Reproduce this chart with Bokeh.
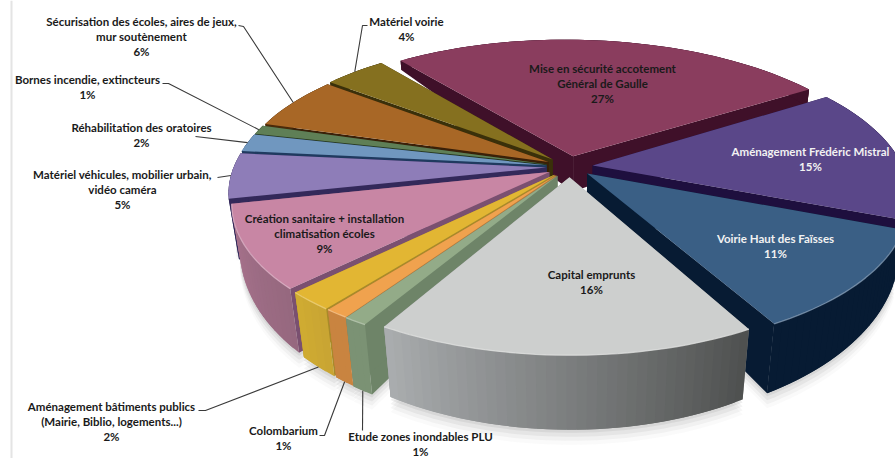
import math
from bokeh.plotting import figure
from bokeh.models import ColumnDataSource, Range1d, Span
from bokeh.core.properties import value
from bokeh.embed import file_html
from bokeh.resources import INLINE

# ---- data (clockwise from the start of the largest slice)
categories = ["Mise en sécurité accotement Général de Gaulle", "Aménagement Frédéric Mistral",
              "Voirie Haut des Faisses", "Capital emprunts", "Etude zones inondables PLU",
              "Colombarium", "Aménagement bâtiments publics (Mairie, Biblio, logements...)",
              "Création sanitaire + installation climatisation écoles",
              "Matériel véhicules, mobilier urbain, vidéo caméra", "Réhabilitation des oratoires",
              "Bornes incendie, extincteurs", "Sécurisation des écoles, aires de jeux, mur soutènement",
              "Matériel voirie"]
percent = [27, 15, 11, 16, 1, 1, 2, 9, 5, 2, 1, 6, 4]
label_lines = [["Mise en sécurité accotement", "Général de Gaulle", "27%"],
               ["Aménagement Frédéric Mistral", "15%"],
               ["Voirie Haut des Faïsses", "11%"],
               ["Capital emprunts", "16%"],
               ["Etude zones inondables PLU", "1%"],
               ["Colombarium", "1%"],
               ["Aménagement bâtiments publics", "(Mairie, Biblio, logements...)", "2%"],
               ["Création sanitaire + installation", "climatisation écoles", "9%"],
               ["Matériel véhicules, mobilier urbain,", "vidéo caméra", "5%"],
               ["Réhabilitation des oratoires", "2%"],
               ["Bornes incendie, extincteurs", "1%"],
               ["Sécurisation des écoles, aires de jeux,", "mur soutènement", "6%"],
               ["Matériel voirie", "4%"]]

# ---- styles
top_col = ["#8A3D5E", "#5A4789", "#3A5F85", "#CDCFCE", "#93AB88", "#F0A24E", "#E2B633",
           "#C886A4", "#8E7DB8", "#7097BF", "#5F7F56", "#A86726", "#85701F"]
wall_a = ["#3F1029", "#1E0F3E", "#071B33", "#4F5150", "#7B9274", "#C98440", "#C9A533",
          "#96687F", "#33295A", "#1F3A5F", "#28391F", "#4A2A0A", "#3A300A"]
wall_b = ["#3F1029", "#1E0F3E", "#071B33", "#A9ACAE", "#7B9274", "#C98440", "#CFAB32",
          "#A8738D", "#33295A", "#1F3A5F", "#28391F", "#4A2A0A", "#3A300A"]
side_col = ["#3F1029", "#1E0F3E", "#071B33", "#8A8C8C", "#6E8468", "#B87A3C", "#A88A2A",
            "#7A5070", "#33295A", "#1F3A5F", "#28391F", "#3A2008", "#3A300A"]
txt_col = ["#1A1A1A", "#F2F2F2", "#F2F2F2"] + ["#1A1A1A"] * 10

# label layout: centre x, first line y
lab_x = [602, 810, 775, 591, 420, 283, 111, 324, 122, 141, 87, 141, 406]
lab_y = [68, 151, 238, 274, 435.5, 430, 406, 218, 174, 127, 79, 21, 21]
LINE_H = 15.2

# leader: points near the label; the pie end is computed. flag: end on wall bottom
leaders = {11: ([238, 243], [25, 26], False),
           12: ([367, 362], [25, 25], False),
           10: ([162, 168], [83, 83], False),
           9: ([195], [136], False),
           8: ([217], [177], False),
           6: ([198, 205], [410, 410], True),
           5: ([319, 324], [435, 435], True),
           4: ([362], [430], True)}

# ---- projection
CX, CY, A, B, K, EXPL, TH0 = 569, 166, 310, 140, 0.2, 0.075, -39.6
wall_scale = {8: 1.3}
# horizontal rim corrections at the start and the end of a slice
rim_dx = {0: (-3, 3), 3: (-5, -1), 4: (-6, -6), 5: (-5, -5), 6: (-5, -5), 7: (-5, 2), 12: (-2, -4)}


def proj(x, y):
    s = 1 / (1 - K * y)
    return CX + A * x * s, CY + B * y * s


def thick(y, i=None):
    return (38 + 34 * y) * wall_scale.get(i, 1.0)


def drop(px, py, y, i=None):
    h = thick(y, i)
    return CX + (px - CX) * (1 - h / 2000), py + h


def mix(c1, c2, t):
    a = [int(c1[i:i + 2], 16) for i in (1, 3, 5)]
    b = [int(c2[i:i + 2], 16) for i in (1, 3, 5)]
    return "#%02x%02x%02x" % tuple(round(p + (q - p) * t) for p, q in zip(a, b))


total = sum(percent)
spans, cum = [], 0
for v in percent:
    spans.append((TH0 + cum / total * 360, TH0 + (cum + v) / total * 360))
    cum += v


def world(i, th, r=1.0):
    mid = math.radians(sum(spans[i]) / 2)
    t = math.radians(th)
    return r * math.sin(t) + EXPL * math.sin(mid), -r * math.cos(t) - EXPL * math.cos(mid)


def rim_point(i, th):
    a, b = spans[i]
    x, y = proj(*world(i, th))
    d0, d1 = rim_dx.get(i, (0, 0))
    f = (th - a) / (b - a)
    return x + d0 + (d1 - d0) * f, y - 3 + 2.5 * math.sin(math.radians(th))


def rim(i):
    a, b = spans[i]
    n = max(3, int((b - a) / 1.5))
    return [a + (b - a) * j / n for j in range(n + 1)]


xs, ys, cols = [], [], []
sx, sy, sa = [], [], []
bx, by, bc = [], [], []
order = sorted(range(len(percent)), key=lambda i: -math.cos(math.radians(sum(spans[i]) / 2)))

for i in range(len(percent)):
    ths = rim(i)
    ax, ay = world(i, 0, 0)
    pts = [(rim_point(i, t), world(i, t)[1]) for t in ths]
    bot = [drop(p[0], p[1], wy) for p, wy in pts]
    apx, apy = proj(ax, ay)
    abx, aby = drop(apx, apy, ay)
    if math.cos(math.radians(sum(spans[i]) / 2)) < 0.35:
        for d, al in ((3, .10), (7, .07), (11, .05), (15, .03)):
            sx.append([abx] + [p[0] for p in bot])
            sy.append([aby + d] + [p[1] + d for p in bot])
            sa.append(al)

for i in order:
    ths = rim(i)
    ax, ay = world(i, 0, 0)
    apx, apy = proj(ax, ay)
    abx, aby = drop(apx, apy, ay, i)
    tops = [rim_point(i, t) for t in ths]
    wy = [world(i, t)[1] for t in ths]
    bots = [drop(p[0], p[1], y, i) for p, y in zip(tops, wy)]
    for k in (0, -1):
        xs.append([apx, tops[k][0], bots[k][0], abx])
        ys.append([apy, tops[k][1], bots[k][1], aby])
        cols.append(side_col[i])
    m = len(ths) - 1
    for j in range(m):
        e = min(j + 2, m)          # each strip overlaps the next, which hides seams
        xs.append([tops[j][0], tops[e][0], bots[e][0], bots[j][0]])
        ys.append([tops[j][1], tops[e][1], bots[e][1], bots[j][1]])
        cols.append(mix(wall_a[i], wall_b[i], j / max(m - 1, 1)))
    xs.append([apx] + [p[0] for p in tops])
    ys.append([apy] + [p[1] for p in tops])
    cols.append(top_col[i])
    if math.cos(math.radians(sum(spans[i]) / 2)) < -0.3:
        bx.append([p[0] for p in tops])
        by.append([p[1] for p in tops])
        bc.append(mix(top_col[i], "#FFFFFF", 0.35))

p = figure(width=895, height=458, output_backend="svg", toolbar_location=None,
           x_range=Range1d(0, 895), y_range=Range1d(458, 0),
           x_axis_location=None, y_axis_location=None, min_border=0)
p.grid.visible = False
p.outline_line_color = None
p.background_fill_color = "#FFFFFF"
p.border_fill_color = "#FFFFFF"

p.add_layout(Span(location=11, dimension="height", line_color="#E4E4E4", line_width=2))

p.patches("xs", "ys", source=ColumnDataSource(dict(xs=sx, ys=sy, a=sa)),
          fill_color="#555555", fill_alpha="a", line_color=None)
p.patches("xs", "ys", source=ColumnDataSource(dict(xs=xs, ys=ys, c=cols)),
          fill_color="c", line_color=None)
p.multi_line("xs", "ys", source=ColumnDataSource(dict(xs=bx, ys=by, c=bc)),
             line_color="c", line_width=1.3, line_alpha=0.8)

# leaders
lx, ly = [], []
for i, (px, py, on_bottom) in leaders.items():
    th = sum(spans[i]) / 2
    ex, ey = rim_point(i, th)
    if on_bottom:
        ex, ey = drop(ex, ey, world(i, th)[1])
    lx.append(px + [ex])
    ly.append(py + [ey])
p.multi_line(lx, ly, line_color="#3A3A3A", line_width=1.1)

# labels
tx, ty, tt, tc = [], [], [], []
for i, lines in enumerate(label_lines):
    for j, s in enumerate(lines):
        tx.append(lab_x[i])
        ty.append(lab_y[i] + j * LINE_H)
        tt.append(s)
        tc.append(txt_col[i])
p.text("x", "y", "t", source=ColumnDataSource(dict(x=tx, y=ty, t=tt, c=tc)),
       text_color="c", text_align="center", text_baseline="middle",
       text_font=value("Lato"), text_font_size="11.5px", text_font_style="bold")

open("out.html", "w").write(file_html(p, INLINE))
